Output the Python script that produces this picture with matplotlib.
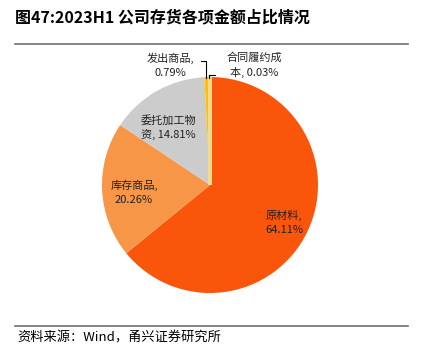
import matplotlib
matplotlib.use("Agg")
import matplotlib.pyplot as plt
from matplotlib.lines import Line2D

plt.rcParams["font.family"] = ["Noto Sans CJK SC", "DejaVu Sans"]

categories = ["原材料", "库存商品", "委托加工物资", "发出商品", "合同履约成本"]
shares = [64.11, 20.26, 14.81, 0.79, 0.03]
colors = ["#F9560B", "#F79646", "#CCCCCC", "#FFC000", "#F3DA8E"]
label_texts = ["原材料,\n64.11%", "库存商品,\n20.26%", "委托加工物\n资, 14.81%",
               "发出商品,\n0.79%", "合同履约成\n本, 0.03%"]

W, H = 421, 355
fig = plt.figure(figsize=(W / 100, H / 100), dpi=100)

# pie centre and radius in pixels
cx, cy, r = 210, 185, 108
ax = fig.add_axes([(cx - r) / W, (H - cy - r) / H, 2 * r / W, 2 * r / H])
wedges, _ = ax.pie(shares, colors=colors, startangle=90, counterclock=False,
                   radius=1, wedgeprops=dict(linewidth=0))
# make the tiny slice visible
wedges[4].set_edgecolor(colors[4])
wedges[4].set_linewidth(2.5)
ax.set_xlim(-1, 1)
ax.set_ylim(-1, 1)
ax.set_aspect("equal")
ax.axis("off")


def px(x, y):
    return (x - cx) / r, (cy - y) / r


label_pos = [(284, 222), (134, 192), (168, 128), (170, 65), (254, 65)]
for txt, (x, y) in zip(label_texts, label_pos):
    dx, dy = px(x, y)
    ax.text(dx, dy, txt, ha="center", va="center", fontsize=8,
            color="#222222", linespacing=1.5, clip_on=False)

# leader lines
for pts in ([(201, 61), (206, 61), (206, 78)], [(209, 78), (209, 75), (215, 75)]):
    xs, ys = zip(*[px(*p) for p in pts])
    ax.plot(xs, ys, color="black", lw=0.8, clip_on=False)

fig.text(15 / W, 1 - 17 / H, "图47:2023H1 公司存货各项金额占比情况", fontsize=11.5,
         fontweight="bold", ha="left", va="center")
fig.add_artist(Line2D([15 / W, 408 / W], [1 - 44 / H] * 2, color="#707070", lw=1.2))
fig.add_artist(Line2D([15 / W, 408 / W], [1 - 326 / H] * 2, color="#707070", lw=1.2))
fig.text(17 / W, 1 - 338 / H, "资料来源：Wind，甬兴证券研究所", fontsize=9.5,
         style="italic", ha="left", va="center")

fig.savefig("out.png", dpi=100)
